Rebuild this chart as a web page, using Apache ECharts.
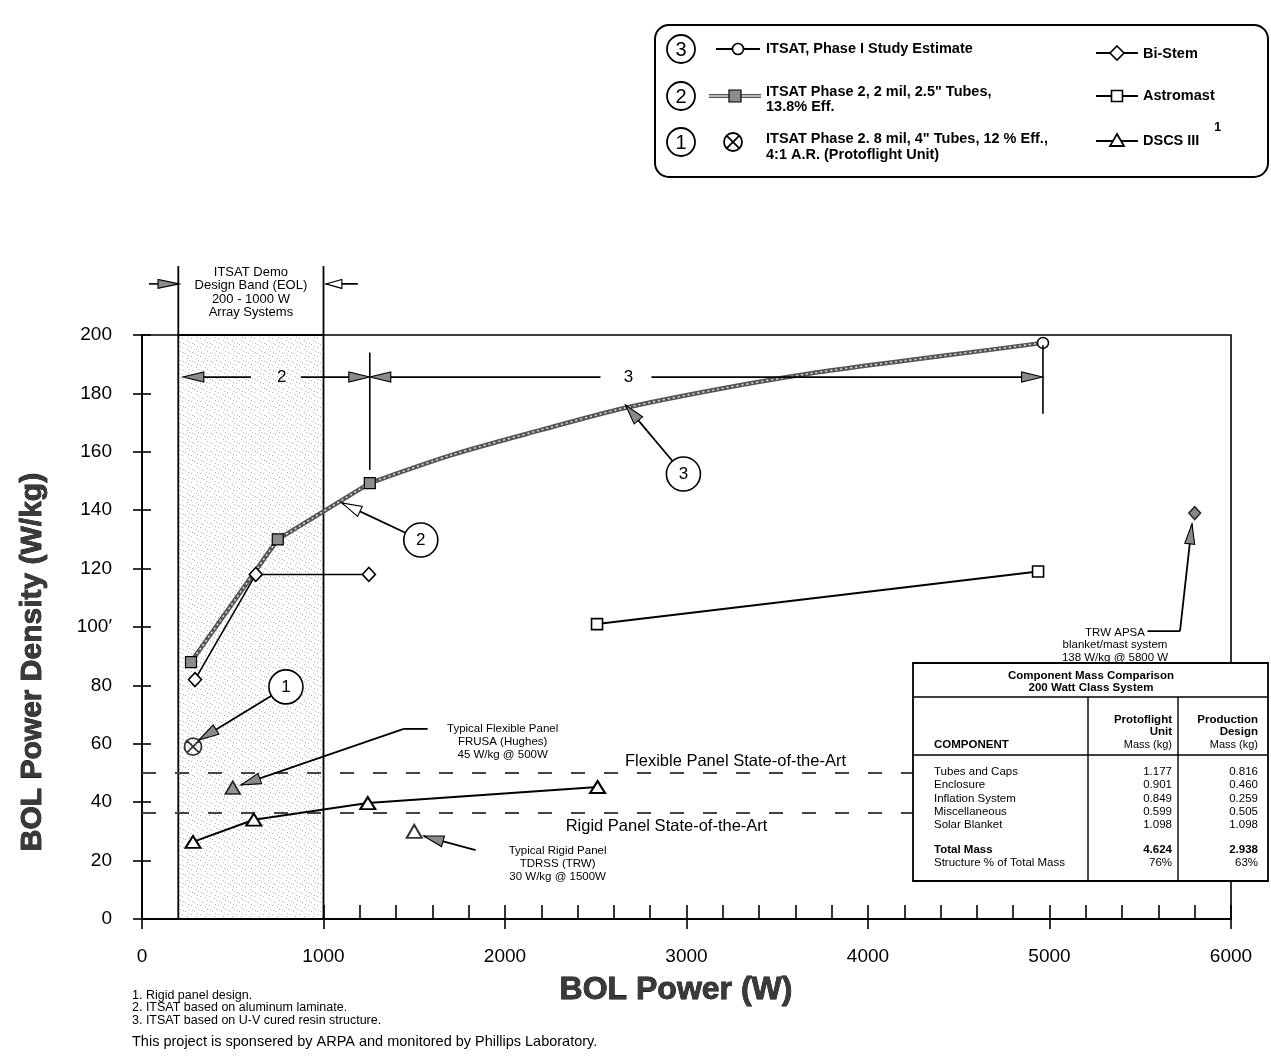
<!DOCTYPE html>
<html><head><meta charset="utf-8">
<script src="https://cdn.jsdelivr.net/npm/echarts/dist/echarts.min.js"></script>
<style>html,body{margin:0;padding:0;background:#fff}#c{width:1271px;height:1057px}</style>
</head><body><div id="c"></div>
<script>
// ---------------- DATA ----------------
const xTickValues = [0, 1000, 2000, 3000, 4000, 5000, 6000];
const yTickValues = [0, 20, 40, 60, 80, 100, 120, 140, 160, 180, 200];
const yTickLabels = ['0', '20', '40', '60', '80', '100\u2032', '120', '140', '160', '180', '200'];

const phase2Power = [270, 748, 1255];
const phase2Density = [88, 130, 149.3];
const phase1Power = [1255, 1700, 2200, 2660, 3180, 3680, 4180, 4670, 4964];
const phase1Density = [149.3, 158.8, 167.5, 175.0, 181.5, 186.8, 191.0, 194.9, 197.3];
const biStemPower = [292, 627, 1250];
const biStemDensity = [82, 118, 118];
const astromastPower = [2507, 4937];
const astromastDensity = [101, 119];
const dscsPower = [281, 616, 1244, 2510];
const dscsDensity = [26.4, 34, 39.7, 45.2];
const protoflightPower = [281];
const protoflightDensity = [59];
const flexPanelPower = [500];
const flexPanelDensity = [45];
const rigidPanelPower = [1500];
const rigidPanelDensity = [30];
const apsaPower = [5800];
const apsaDensity = [139];
const flexibleSOA = 50;
const rigidSOA = 36.4;
const designBand = [200, 1000];

const tableComponents = ['Tubes and Caps', 'Enclosure', 'Inflation System', 'Miscellaneous', 'Solar Blanket'];
const protoflightMass = ['1.177', '0.901', '0.849', '0.599', '1.098'];
const productionMass = ['0.816', '0.460', '0.259', '0.505', '1.098'];
const totalMass = ['4.624', '2.938'];
const structurePct = ['76%', '63%'];

// ---------------- CHART ----------------
const FONT = '"Liberation Sans", Arial, Helvetica, sans-serif';
const pairs = (xs, ys) => xs.map((x, i) => [x, ys[i]]);

function makeStipple() {
  const c = document.createElement('canvas');
  c.width = 9; c.height = 9;
  const g = c.getContext('2d');
  g.fillStyle = '#ffffff'; g.fillRect(0, 0, 9, 9);
  g.fillStyle = '#b4b4b4';
  [[0,0],[5,2],[2,5],[7,7],[3,1],[8,4]].forEach(p => g.fillRect(p[0], p[1], 1, 1));
  return c;
}
const stipple = makeStipple();

const chart = echarts.init(document.getElementById('c'), null, {renderer: 'canvas', width: 1271, height: 1057});

const otimesPath = 'path://M10,0A10,10,0,1,1,-10,0A10,10,0,1,1,10,0ZM-7.07,-7.07L7.07,7.07M7.07,-7.07L-7.07,7.07';

const option = {
  animation: false,
  backgroundColor: '#fff',
  textStyle: {fontFamily: FONT},
  grid: {left: 142, right: 40, top: 335, bottom: 138, show: true, borderColor: '#000', borderWidth: 1.6, backgroundColor: 'transparent'},
  xAxis: [
    {type: 'value', min: 0, max: 6000, interval: 1000,
     axisLine: {show: true, lineStyle: {color: '#000', width: 1.8}},
     axisTick: {show: true, inside: true, length: 14, lineStyle: {color: '#000', width: 1.6}},
     minorTick: {show: true, splitNumber: 5, length: 14, lineStyle: {color: '#000', width: 1.6}},
     axisLabel: {show: true, margin: 28, fontSize: 19, color: '#000', fontFamily: FONT,
       formatter: v => (xTickValues.indexOf(v) >= 0 ? String(v) : '')},
     splitLine: {show: false}},
    {type: 'value', min: 0, max: 6000, interval: 1000, position: 'bottom',
     axisLine: {show: false}, axisTick: {show: true, inside: false, length: 10, lineStyle: {color: '#000', width: 1.6}},
     axisLabel: {show: false}, splitLine: {show: false}}
  ],
  yAxis: [
    {type: 'value', min: 0, max: 200, interval: 20,
     axisLine: {show: true, lineStyle: {color: '#000', width: 1.8}},
     axisTick: {show: true, inside: false, length: 9, lineStyle: {color: '#000', width: 1.6}},
     axisLabel: {show: true, margin: 30, fontSize: 19, color: '#000', fontFamily: FONT,
       formatter: v => { const i = yTickValues.indexOf(v); return i >= 0 ? yTickLabels[i] : ''; }},
     splitLine: {show: false}},
    {type: 'value', min: 0, max: 200, interval: 20, position: 'left',
     axisLine: {show: false}, axisTick: {show: true, inside: true, length: 9, lineStyle: {color: '#000', width: 1.6}},
     axisLabel: {show: false}, splitLine: {show: false}}
  ],
  series: [
    {name: 'band', type: 'line', data: [], z: 1, silent: true,
     markArea: {silent: true, itemStyle: {color: {image: stipple, repeat: 'repeat'}, borderColor: '#000', borderWidth: 1.8},
       data: [[{xAxis: designBand[0]}, {xAxis: designBand[1]}]]}},
    {name: 'soa', type: 'line', data: [], z: 2, silent: true,
     markLine: {silent: true, symbol: ['none', 'none'], label: {show: false},
       lineStyle: {type: [14, 19], width: 2, color: '#444'},
       data: [{yAxis: flexibleSOA}, {yAxis: rigidSOA}]}},
    {name: 'phase2base', type: 'line', data: pairs(phase2Power, phase2Density), symbol: 'none', z: 3, silent: true,
     lineStyle: {color: '#555', width: 4.5}},
    {name: 'phase1base', type: 'line', data: pairs(phase1Power, phase1Density), symbol: 'none', smooth: 0.3, z: 3, silent: true,
     lineStyle: {color: '#555', width: 4.5}},
    {name: 'ITSAT Phase 2', type: 'line', data: pairs(phase2Power, phase2Density), z: 4, silent: true,
     lineStyle: {color: '#d8d8d8', width: 1.6, type: [2, 3]},
     symbol: 'rect', symbolSize: 11, showAllSymbol: true,
     itemStyle: {color: '#8c8c8c', borderColor: '#000', borderWidth: 1.2}},
    {name: 'ITSAT Phase 1', type: 'line', data: pairs(phase1Power, phase1Density), smooth: 0.3, z: 4, silent: true,
     lineStyle: {color: '#d8d8d8', width: 1.6, type: [2, 3]},
     symbol: 'circle', showAllSymbol: true,
     symbolSize: (v, p) => (p.dataIndex === phase1Power.length - 1 ? 11 : 0),
     itemStyle: {color: '#fff', borderColor: '#000', borderWidth: 1.5}},
    {name: 'Bi-Stem', type: 'line', data: pairs(biStemPower, biStemDensity), z: 5, silent: true,
     lineStyle: {color: '#000', width: 1.6}, symbol: 'diamond', symbolSize: [13, 14], showAllSymbol: true,
     itemStyle: {color: '#fff', borderColor: '#000', borderWidth: 1.6}},
    {name: 'Astromast', type: 'line', data: pairs(astromastPower, astromastDensity), z: 5, silent: true,
     lineStyle: {color: '#000', width: 2}, symbol: 'rect', symbolSize: 11, showAllSymbol: true,
     itemStyle: {color: '#fff', borderColor: '#000', borderWidth: 1.6}},
    {name: 'DSCS III', type: 'line', data: pairs(dscsPower, dscsDensity), z: 5, silent: true,
     lineStyle: {color: '#000', width: 2}, symbol: 'triangle', symbolSize: [15, 12], showAllSymbol: true,
     itemStyle: {color: '#fff', borderColor: '#000', borderWidth: 2}},
    {name: 'Protoflight', type: 'scatter', data: pairs(protoflightPower, protoflightDensity), z: 5, silent: true,
     symbol: otimesPath, symbolSize: 17,
     itemStyle: {color: 'rgba(255,255,255,0)', borderColor: '#000', borderWidth: 1.8}},
    {name: 'Typical Flexible', type: 'scatter', data: pairs(flexPanelPower, flexPanelDensity), z: 5, silent: true,
     symbol: 'triangle', symbolSize: [15, 13], itemStyle: {color: '#7a7a7a', borderColor: '#000', borderWidth: 1.6}},
    {name: 'Typical Rigid', type: 'scatter', data: pairs(rigidPanelPower, rigidPanelDensity), z: 5, silent: true,
     symbol: 'triangle', symbolSize: [15, 13], itemStyle: {color: '#fff', borderColor: '#000', borderWidth: 2}},
    {name: 'TRW APSA', type: 'scatter', data: pairs(apsaPower, apsaDensity), z: 5, silent: true,
     symbol: 'diamond', symbolSize: [12, 13], itemStyle: {color: '#6a6a6a', borderColor: '#000', borderWidth: 1.4}}
  ]
};
chart.setOption(option);

// ---------------- ANNOTATIONS ----------------
const P = (x, y) => chart.convertToPixel({xAxisIndex: 0, yAxisIndex: 0}, [x, y]);
const G = [];
function L(a, b, w, color) {
  G.push({type: 'line', silent: true, z: 60, shape: {x1: a[0], y1: a[1], x2: b[0], y2: b[1]},
    style: {stroke: color || '#000', lineWidth: w || 1.5}});
}
function T(s, p, o) {
  o = o || {};
  G.push({type: 'text', silent: true, z: o.z || 61, x: p[0], y: p[1], rotation: o.rot || 0,
    style: {text: s, fontSize: o.size || 12, fontWeight: o.bold ? 'bold' : 'normal', fontFamily: FONT,
      fill: o.fill || '#000', stroke: o.stroke || null, lineWidth: o.sw || 0,
      textAlign: o.align || 'left', textVerticalAlign: o.valign || 'middle', lineHeight: o.lh || undefined}});
}
function C(p, r, o) {
  o = o || {};
  G.push({type: 'circle', silent: true, z: o.z || 60, shape: {cx: p[0], cy: p[1], r: r},
    style: {fill: o.fill || '#fff', stroke: '#000', lineWidth: o.w || 1.6}});
}
function AH(tip, from, len, half, fill) {
  const dx = from[0] - tip[0], dy = from[1] - tip[1], d = Math.hypot(dx, dy);
  const ux = dx / d, uy = dy / d, bx = tip[0] + ux * len, by = tip[1] + uy * len;
  G.push({type: 'polygon', silent: true, z: 62,
    shape: {points: [[tip[0], tip[1]], [bx - uy * half, by + ux * half], [bx + uy * half, by - ux * half]]},
    style: {fill: fill, stroke: '#000', lineWidth: 1.1}});
}
function callout(num, center, tip, fill) {
  const c = P(center[0], center[1]), t = P(tip[0], tip[1]);
  const dx = t[0] - c[0], dy = t[1] - c[1], d = Math.hypot(dx, dy);
  const s = [c[0] + dx / d * 17, c[1] + dy / d * 17];
  L(s, t, 1.8);
  AH(t, s, 20, 5.5, fill);
  C(c, 17, {w: 1.6});
  T(num, c, {size: 17, align: 'center'});
}

// band header
const rY = 185.6;
[designBand[0], designBand[1]].forEach(x => L(P(x, 200), P(x, 223.6), 1.8));
T('ITSAT Demo\nDesign Band (EOL)\n200 - 1000 W\nArray Systems', P(600, 214.6), {size: 13, align: 'center', lh: 13.4});
L(P(38, 217.5), P(120, 217.5), 1.6);
AH(P(204, 217.5), P(38, 217.5), 21, 4.5, '#8a8a8a');
L(P(1013, 217.5), P(1189, 217.5), 1.6);
AH(P(1013, 217.5), P(1189, 217.5), 16, 4.5, '#fff');

// range arrows
AH(P(225, rY), P(600, rY), 21, 5, '#8a8a8a');
L(P(330, rY), P(600, rY), 1.8);
T('2', P(770, rY), {size: 17, align: 'center'});
L(P(875, rY), P(1150, rY), 1.8);
AH(P(1255, rY), P(875, rY), 21, 5, '#8a8a8a');
AH(P(1255, rY), P(2500, rY), 21, 5, '#8a8a8a');
L(P(1360, rY), P(2526, rY), 1.8);
T('3', P(2680, rY), {size: 17, align: 'center'});
L(P(2807, rY), P(4850, rY), 1.8);
AH(P(4962, rY), P(2807, rY), 21, 5, '#8a8a8a');
L(P(1255, 153.8), P(1255, 194), 1.6);
L(P(4964, 173), P(4964, 196.5), 1.6);

// callouts
callout('3', [2983, 152.4], [2664, 176], '#8a8a8a');
callout('2', [1536, 129.8], [1101, 142.5], '#fff');
callout('1', [793, 79.5], [314, 61.3], '#8a8a8a');

// typical flexible panel
L(P(1574, 65.1), P(1442, 65.1), 1.8);
L(P(1442, 65.1), P(545, 45.9), 1.8);
AH(P(545, 45.9), P(1442, 65.1), 20, 5.5, '#8a8a8a');
T('Typical Flexible Panel\nFRUSA (Hughes)\n45 W/kg @ 500W', P(1987, 60.6), {size: 11.5, align: 'center', lh: 13});
// typical rigid panel
L(P(1838, 23.6), P(1552, 28.4), 1.8);
AH(P(1552, 28.4), P(1838, 23.6), 20, 5.5, '#8a8a8a');
T('Typical Rigid Panel\nTDRSS (TRW)\n30 W/kg @ 1500W', P(2290, 19.0), {size: 11.5, align: 'center', lh: 13});
// TRW APSA
L(P(5540, 98.6), P(5719, 98.6), 1.8);
L(P(5719, 98.6), P(5785, 135.3), 1.8);
AH(P(5785, 135.3), P(5719, 98.6), 20, 5, '#8a8a8a');
T('TRW APSA\nblanket/mast system\n138 W/kg @ 5800 W', P(5361, 93.8), {size: 11.5, align: 'center', lh: 12.5});
// SOA labels
T('Flexible Panel State-of-the-Art', P(3270, 53.8), {size: 16.5, align: 'center'});
T('Rigid Panel State-of-the-Art', P(2890, 31.8), {size: 16.5, align: 'center'});

// axis titles
T('BOL Power Density (W/kg)', [33, 662], {size: 30, bold: true, align: 'center', rot: Math.PI / 2, fill: '#3a3a3a', stroke: '#000', sw: 0.8});
T('BOL Power (W)', [676, 990], {size: 32, bold: true, align: 'center', fill: '#3a3a3a', stroke: '#000', sw: 0.8});

// footnotes
T('1. Rigid panel design.\n2. ITSAT based on aluminum laminate.\n3. ITSAT based on U-V cured resin structure.', [132, 1008], {size: 12.5, lh: 12.2});
T('This project is sponsered by ARPA and monitored by Phillips Laboratory.', [132, 1042], {size: 14.5});

// legend box
G.push({type: 'rect', silent: true, z: 70, shape: {x: 655, y: 25, width: 613, height: 152, r: 14},
  style: {fill: '#fff', stroke: '#000', lineWidth: 2}});
C([681, 49], 14, {z: 72, w: 1.8}); T('3', [681, 50], {size: 20, align: 'center', z: 73});
C([681, 96], 14, {z: 72, w: 1.8}); T('2', [681, 97], {size: 20, align: 'center', z: 73});
C([681, 142], 14, {z: 72, w: 1.8}); T('1', [681, 143], {size: 20, align: 'center', z: 73});
function LL(a, b, w, color, z) { G.push({type: 'line', silent: true, z: z || 72, shape: {x1: a[0], y1: a[1], x2: b[0], y2: b[1]}, style: {stroke: color || '#000', lineWidth: w || 2}}); }
function LPoly(pts, fill, w) { G.push({type: 'polygon', silent: true, z: 73, shape: {points: pts}, style: {fill: fill, stroke: '#000', lineWidth: w || 1.5}}); }
// row 1 symbol
LL([716, 49], [760, 49], 2);
G.push({type: 'circle', silent: true, z: 73, shape: {cx: 738, cy: 49, r: 5.5}, style: {fill: '#fff', stroke: '#000', lineWidth: 1.6}});
// row 2 symbol
LL([709, 96], [761, 96], 4, '#555');
LL([709, 96], [761, 96], 1.4, '#d8d8d8');
LPoly([[729, 90], [741, 90], [741, 102], [729, 102]], '#8c8c8c', 1.2);
// row 3 symbol
G.push({type: 'circle', silent: true, z: 73, shape: {cx: 733, cy: 142, r: 9}, style: {fill: '#fff', stroke: '#000', lineWidth: 1.8}});
LL([726.6, 135.6], [739.4, 148.4], 1.8, '#000', 75); LL([739.4, 135.6], [726.6, 148.4], 1.8, '#000', 75);
const LF = {size: 14.5, bold: true, z: 73};
T('ITSAT, Phase I Study Estimate', [766, 49], LF);
T('ITSAT Phase 2, 2 mil, 2.5" Tubes,', [766, 92], LF);
T('13.8% Eff.', [766, 107], LF);
T('ITSAT Phase 2. 8 mil, 4" Tubes, 12 % Eff.,', [766, 139], LF);
T('4:1 A.R. (Protoflight Unit)', [766, 155], LF);
// right column
LL([1096, 53], [1138, 53], 2);
LPoly([[1117, 46], [1124, 53], [1117, 60], [1110, 53]], '#fff', 1.6);
T('Bi-Stem', [1143, 54], LF);
LL([1096, 96], [1138, 96], 2);
LPoly([[1111.5, 90.5], [1122.5, 90.5], [1122.5, 101.5], [1111.5, 101.5]], '#fff', 1.6);
T('Astromast', [1143, 96], LF);
LL([1096, 141], [1138, 141], 2);
LPoly([[1117, 134], [1124, 146], [1110, 146]], '#fff', 1.8);
T('DSCS III', [1143, 141], LF);
T('1', [1214, 127], {size: 13, bold: true, z: 73});

// table
G.push({type: 'rect', silent: true, z: 80, shape: {x: 913, y: 663, width: 355, height: 218},
  style: {fill: '#fff', stroke: '#000', lineWidth: 1.8}});
function TL(a, b, w) { G.push({type: 'line', silent: true, z: 81, shape: {x1: a[0], y1: a[1], x2: b[0], y2: b[1]}, style: {stroke: '#000', lineWidth: w || 1.4}}); }
TL([913, 697], [1268, 697]);
TL([913, 755], [1268, 755]);
TL([1088, 697], [1088, 881]);
TL([1178, 697], [1178, 881]);
T('Component Mass Comparison', [1091, 676], {size: 11.5, bold: true, align: 'center', z: 82});
T('200 Watt Class System', [1091, 688], {size: 11.5, bold: true, align: 'center', z: 82});
T('Protoflight', [1172, 720], {size: 11.5, bold: true, align: 'right', z: 82});
T('Unit', [1172, 732], {size: 11.5, bold: true, align: 'right', z: 82});
T('Mass (kg)', [1172, 745], {size: 11, align: 'right', z: 82});
T('Production', [1258, 720], {size: 11.5, bold: true, align: 'right', z: 82});
T('Design', [1258, 732], {size: 11.5, bold: true, align: 'right', z: 82});
T('Mass (kg)', [1258, 745], {size: 11, align: 'right', z: 82});
T('COMPONENT', [934, 745], {size: 11.5, bold: true, z: 82});
tableComponents.forEach((name, i) => {
  const y = 772 + i * 13.2;
  T(name, [934, y], {size: 11.5, z: 82});
  T(protoflightMass[i], [1172, y], {size: 11.5, align: 'right', z: 82});
  T(productionMass[i], [1258, y], {size: 11.5, align: 'right', z: 82});
});
T('Total Mass', [934, 850], {size: 11.5, bold: true, z: 82});
T(totalMass[0], [1172, 850], {size: 11.5, bold: true, align: 'right', z: 82});
T(totalMass[1], [1258, 850], {size: 11.5, bold: true, align: 'right', z: 82});
T('Structure % of Total Mass', [934, 863], {size: 11.5, z: 82});
T(structurePct[0], [1172, 863], {size: 11.5, align: 'right', z: 82});
T(structurePct[1], [1258, 863], {size: 11.5, align: 'right', z: 82});

chart.setOption({graphic: {elements: G}});
</script>
</body></html>
